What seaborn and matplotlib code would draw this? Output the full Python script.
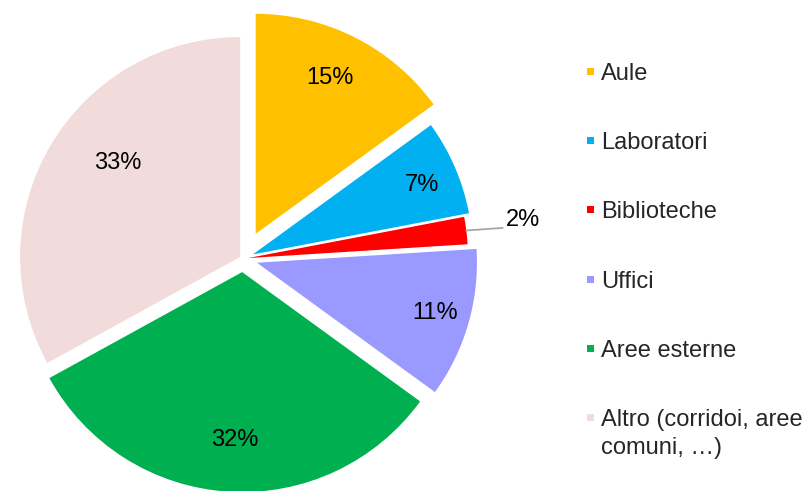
import numpy as np
import matplotlib
matplotlib.use("Agg")
import matplotlib.pyplot as plt
from matplotlib.patches import Rectangle
import seaborn as sns

# Distribuzione per tipologia di spazio (%)
categorie = ["Aule", "Laboratori", "Biblioteche", "Uffici", "Aree esterne",
             "Altro (corridoi, aree\ncomuni, …)"]
valori = [15, 7, 2, 11, 32, 33]
colori = ["#FFC000", "#00B0F0", "#FF0000", "#9999FF", "#00B050", "#F2DCDB"]

# stile: esplosione delle fette e posizione etichette (raggio, scarto angolare)
esplodi = [0.127, 0.049, 0.023, 0.066, 0.061, 0.015]
dist_etich = [0.91, 0.88, 1.285, 0.907, 0.825, 0.716]
scarto_ang = [1.3, -1.0, 0.7, 0.4, 1.1, -6.8]

sns.set_theme(style="white")
plt.rcParams["font.family"] = ["Liberation Sans", "DejaVu Sans"]

W, H = 809, 491
fig = plt.figure(figsize=(W / 100, H / 100), dpi=100)
R = 220.0           # raggio in pixel
cx, cy = 243.0, 258.7
half = 1.2 * R
ax = fig.add_axes([(cx - half) / W, (H - cy - half) / H, 2 * half / W, 2 * half / H])

wedges, _, autotexts = ax.pie(
    valori, explode=esplodi, colors=colori, startangle=90, counterclock=False,
    radius=1, autopct=lambda p: f"{p:.0f}%", labels=None,
    wedgeprops=dict(linewidth=0),
    textprops=dict(fontsize=17, color="black"))
ax.set_xlim(-1.2, 1.2)
ax.set_ylim(-1.2, 1.2)
ax.set_aspect("equal")
ax.axis("off")

for w, t, d, da in zip(wedges, autotexts, dist_etich, scarto_ang):
    mid = np.deg2rad((w.theta1 + w.theta2) / 2 + da)
    t.set_position((d * np.cos(mid), d * np.sin(mid)))
    t.set_ha("center"); t.set_va("center")

# linea guida per l'etichetta piccola (Biblioteche)
wb = wedges[2]
mb = np.deg2rad((wb.theta1 + wb.theta2) / 2)
ox, oy = wb.center
ax.plot([ox + 1.0 * np.cos(mb), 1.18], [oy + 1.0 * np.sin(mb), 0.14],
        color="#A6A6A6", lw=1.3, solid_capstyle="round")

# legenda a destra
y0, passo = 71.5, 69.2
for i, (lab, col) in enumerate(zip(categorie, colori)):
    yc = y0 + i * passo
    fig.patches.append(Rectangle(((587) / W, (H - yc - 3.5) / H), 7 / W, 7 / H,
                                 transform=fig.transFigure, color=col, lw=0))
    fig.text(601 / W, (H - yc) / H, lab.split("\n")[0], fontsize=17,
             ha="left", va="center_baseline")
    if "\n" in lab:
        fig.text(601 / W, (H - yc - 28) / H, lab.split("\n")[1], fontsize=17,
                 ha="left", va="center_baseline")

fig.savefig("out.png", dpi=100)
